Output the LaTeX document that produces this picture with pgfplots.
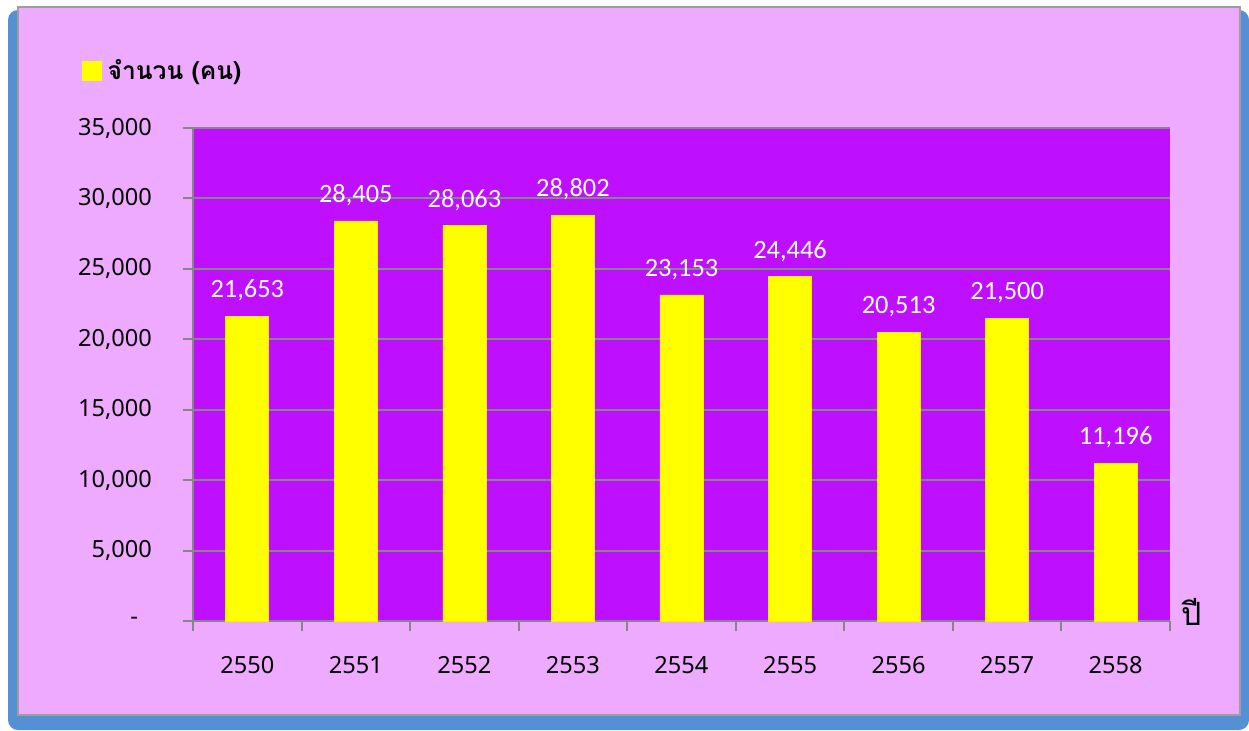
\documentclass[border=0pt]{standalone}
\usepackage{pgfplots}
\pgfplotsset{compat=1.18}
\usepackage{pgfplotstable}
\usepackage{fontspec}
\setmainfont{Noto Sans}
\newfontfamily\thaifont[Script=Thai]{Loma}
\newfontfamily\carlito{Carlito}
\definecolor{bgpink}{RGB}{238,170,254}
\definecolor{plotpurple}{RGB}{190,16,255}
\definecolor{frameblue}{RGB}{86,144,212}
\definecolor{gridgray}{RGB}{134,134,134}
\definecolor{baryellow}{RGB}{255,255,0}
\pgfplotstableread{
x y
0 21653
1 28405
2 28063
3 28802
4 23153
5 24446
6 20513
7 21500
8 11196
}\datatable
\begin{document}
\begin{tikzpicture}
\fill[white] (0,0) rectangle (624.5pt,-365pt);
\fill[frameblue, rounded corners=5pt] (4pt,-5pt) rectangle (624.5pt,-365pt);
\filldraw[fill=bgpink, draw=gridgray!80, line width=1pt] (9pt,-3.5pt) rectangle (620pt,-357.5pt);
\begin{axis}[
  at={(96.5pt,-310.5pt)}, anchor=south west,
  scale only axis, width=488.5pt, height=246.5pt,
  xmin=-0.5, xmax=8.5, ymin=0, ymax=35000,
  scaled y ticks=false,
  axis lines*=left,
  axis line style={draw=gridgray, line width=1pt},
  axis background/.style={fill=plotpurple},
  ymajorgrids, major grid style={draw=gridgray, line width=1pt},
  tick align=outside,
  major tick length=5pt,
  tick style={draw=gridgray, line width=1pt},
  xtick={-0.5,0.5,...,8.5}, xticklabels={},
  extra x ticks={0,1,2,3,4,5,6,7,8},
  extra x tick labels={2550,2551,2552,2553,2554,2555,2556,2557,2558},
  extra x tick style={major tick length=0pt, grid=none},
  ytick={0,5000,10000,15000,20000,25000,30000,35000},
  yticklabels={{-\hspace*{7pt}},{5,000},{10,000},{15,000},{20,000},{25,000},{30,000},{35,000}},
  ticklabel style={font=\fontsize{11.8}{13}\selectfont, text=black},
  xticklabel style={yshift=-14pt},
  yticklabel style={xshift=-12pt},
  /pgf/number format/assume math mode=true,
  legend style={at={(axis description cs:-0.114,1.116)}, anchor=west, draw=none, fill=none,
    font=\thaifont\bfseries\fontsize{12.3}{14}\selectfont, inner sep=0pt,
    /tikz/every odd column/.append style={column sep=1pt}},
  legend cell align=left,
]
\addplot[ybar, bar width=21.5pt, fill=baryellow, draw=baryellow!85!orange, line width=0.3pt,
  legend image code/.code={\fill[baryellow] (0pt,-4.75pt) rectangle (9.5pt,4.75pt);},
  nodes near coords={\pgfmathprintnumber[fixed,precision=0,1000 sep={,}]{\pgfplotspointmeta}},
  every node near coord/.append style={font=\carlito\fontsize{13.2}{15}\selectfont, text=white, yshift=4pt},
] table[x=x,y=y] {\datatable};
\addlegendentry{จำนวน (คน)}
\end{axis}
\node[font=\thaifont\fontsize{16}{18}\selectfont, anchor=center] at (596pt,-306pt) {ปี};
\end{tikzpicture}
\end{document}
